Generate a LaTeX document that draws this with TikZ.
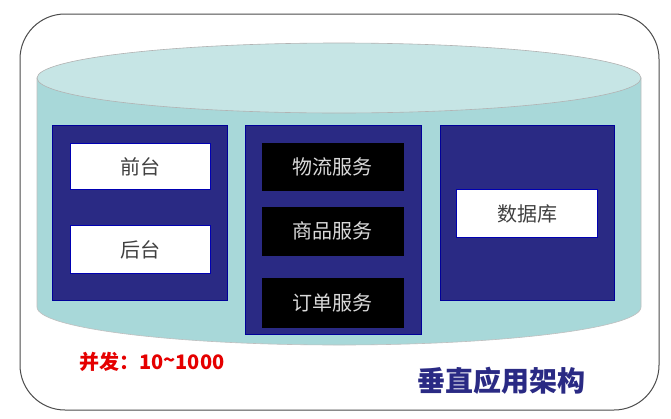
\documentclass[tikz,border=0pt]{standalone}
\usepackage{fontspec}
\newfontfamily\cjk{Noto Sans CJK SC}
\begin{document}
\begin{tikzpicture}[x=1pt,y=-1pt,
  panel/.style={draw=blue!60!black,fill=navyc,line width=1pt,inner sep=0pt},
  wbox/.style={draw=blue!70!black,fill=white,line width=1pt,inner sep=0pt,font=\cjk\fontsize{20}{22}\selectfont,text=black!75},
  bbox/.style={draw=black,fill=black,inner sep=0pt,font=\cjk\fontsize{20}{22}\selectfont,text=white!85!black}]
\definecolor{navyc}{HTML}{2A2A84}
\definecolor{cylbody}{HTML}{A8D8D9}
\definecolor{cyltop}{HTML}{C6E5E5}
\useasboundingbox (0,0) rectangle (671,418);
\fill[white] (0,0) rectangle (671,418);
% outer frame
\draw[black!70,line width=1pt,rounded corners=45pt] (20,14) rectangle (659,410);
% cylinder body
\draw[fill=cylbody,draw=black!25,line width=0.6pt] (37,78) -- (37,307) arc[start angle=180,end angle=0,x radius=302,y radius=38] -- (641,78) -- cycle;
\draw[fill=cyltop,draw=black!30,line width=0.6pt] (339,78) ellipse[x radius=302,y radius=35];
% panels
\node[panel,minimum width=175pt,minimum height=175pt,anchor=north west] (left) at (52,125) {};
\node[panel,minimum width=176pt,minimum height=209pt,anchor=north west] (mid) at (245,125) {};
\node[panel,minimum width=174pt,minimum height=175pt,anchor=north west] (right) at (440,125) {};
% left boxes
\node[wbox,minimum width=140pt,minimum height=46pt,anchor=north west] (qt) at (70,143) {前台};
\node[wbox,minimum width=140pt,minimum height=48pt,anchor=north west] (ht) at (70,225) {后台};
% middle boxes
\node[bbox,minimum width=141pt,minimum height=47pt,anchor=north west] (wl) at (262,143) {物流服务};
\node[bbox,minimum width=141pt,minimum height=48pt,anchor=north west] (sp) at (262,207) {商品服务};
\node[bbox,minimum width=141pt,minimum height=49pt,anchor=north west] (dd) at (262,278) {订单服务};
% database
\node[wbox,minimum width=141pt,minimum height=48pt,anchor=north west] (db) at (456,189) {数据库};
% texts
\node[anchor=west,text=red!90!black,font=\cjk\bfseries\fontsize{20}{22}\selectfont,inner sep=0pt] (bf) at (79,362) {并发：10\raisebox{0.15ex}{\char"7E}1000};
\node[anchor=west,text=navyc,font=\cjk\bfseries\fontsize{28}{30}\selectfont,inner sep=0pt] (title) at (417,381) {垂直应用架构};
\end{tikzpicture}
\end{document}
